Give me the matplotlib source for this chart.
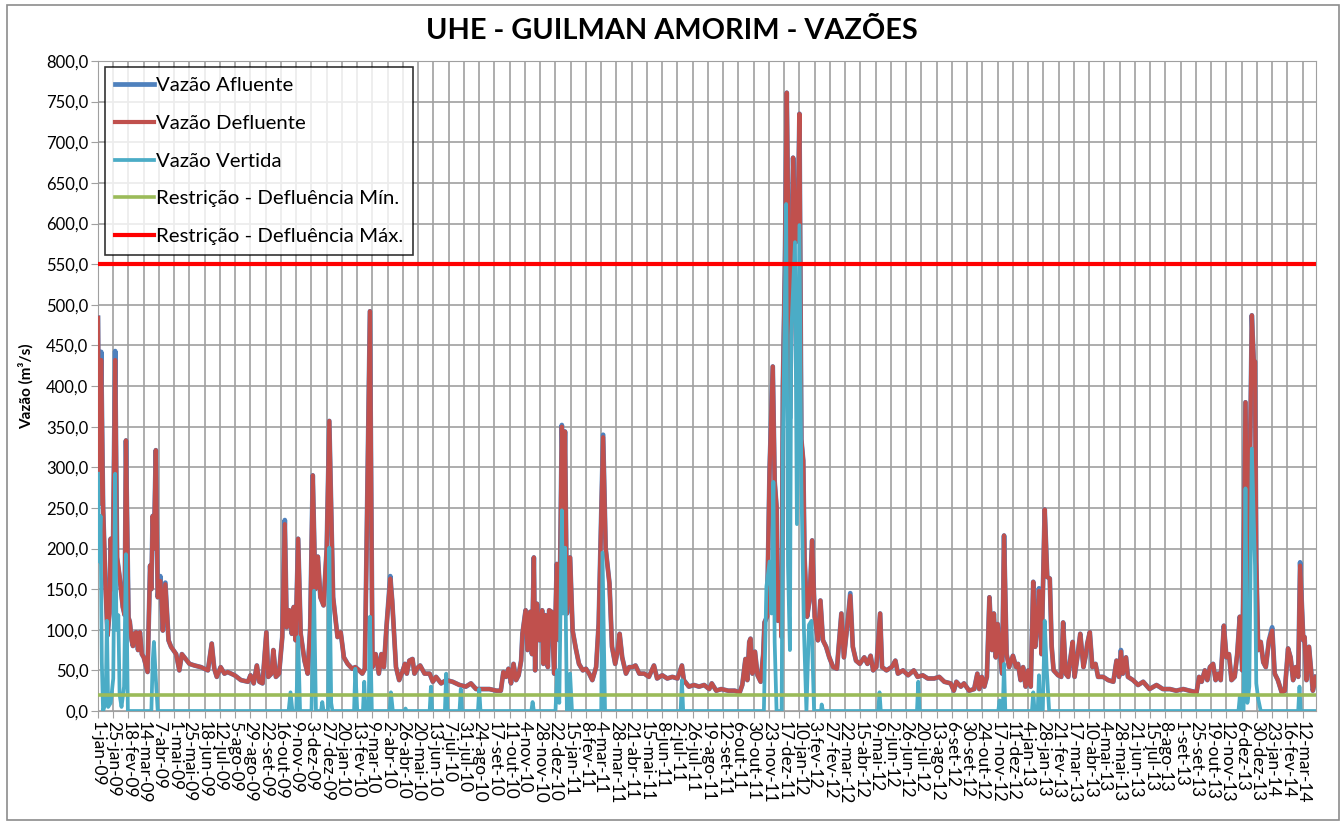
import matplotlib
matplotlib.use("Agg")
import matplotlib.pyplot as plt
from matplotlib.patches import Rectangle
import pandas as pd

# dias contados a partir de 1-jan-2009
dias_def = [0, 2, 5, 8, 12, 15, 18, 20, 23, 27, 30, 34, 39, 42, 44, 48, 50, 53, 55, 57, 60, 63, 66, 69, 72, 78,
            82, 84, 86, 88, 91, 94, 98, 100, 102, 106, 111, 115, 123, 128, 132, 136, 144, 152, 162, 173, 179, 183,
            187, 193, 199, 204, 215, 225, 236, 240, 245, 250, 254, 259, 265, 268, 273, 276, 280, 285, 290, 294,
            297, 301, 305, 308, 311, 315, 319, 325, 330, 334, 338, 342, 346, 350, 355, 360, 364, 367, 370, 377,
            382, 387, 393, 400, 405, 411, 416, 420, 428, 432, 437, 442, 446, 450, 454, 460, 463, 469, 474, 479,
            483, 486, 490, 495, 498, 504, 507, 514, 522, 527, 532, 540, 548, 558, 569, 579, 587, 595, 606, 616,
            627, 634, 638, 642, 646, 650, 654, 658, 662, 666, 668, 673, 676, 680, 683, 686, 688, 691, 695, 699,
            701, 704, 708, 710, 714, 718, 722, 726, 730, 733, 735, 738, 743, 747, 752, 757, 763, 768, 773, 778,
            784, 788, 795, 799, 805, 809, 814, 818, 821, 825, 831, 836, 841, 846, 852, 860, 867, 875, 880, 888,
            896, 904, 912, 919, 922, 930, 938, 946, 954, 962,
            966, 973, 981, 992, 1002, 1010, 1014, 1019, 1022, 1025, 1027, 1030, 1034, 1038, 1043, 1047, 1049,
            1053, 1057, 1062, 1065, 1068, 1070, 1073, 1076, 1078, 1081, 1084, 1086, 1089, 1091, 1094, 1098, 1101,
            1104, 1107, 1110, 1112, 1116, 1120, 1124, 1128, 1133, 1137, 1141, 1146, 1151, 1157, 1163, 1170, 1174,
            1179, 1184, 1188, 1193, 1199, 1206, 1211, 1216, 1220, 1225, 1231, 1234, 1241, 1249, 1255, 1259, 1267,
            1275, 1284, 1290, 1298, 1306, 1316, 1324, 1332, 1342, 1347, 1351, 1358, 1363, 1371, 1379, 1384, 1387,
            1391, 1395, 1399, 1403, 1407, 1410, 1413, 1416, 1420, 1423, 1426, 1430, 1434,
            1440, 1445, 1448, 1452, 1456, 1460, 1464, 1468, 1472, 1475, 1479, 1481, 1485, 1490, 1494, 1498, 1501,
            1504, 1511, 1516, 1519, 1523, 1527, 1530, 1534, 1537, 1542, 1546, 1551, 1555, 1557, 1561, 1565, 1570,
            1574, 1582, 1590, 1598, 1603, 1607, 1610, 1613, 1618, 1621, 1629, 1637, 1645, 1655, 1666, 1676, 1687,
            1697, 1708, 1718, 1729, 1733, 1737, 1742, 1746, 1750, 1755, 1759, 1763, 1767, 1772, 1776, 1780, 1784,
            1789, 1793, 1797, 1801, 1806, 1810, 1813, 1816, 1819, 1821, 1823, 1826, 1830, 1834, 1838, 1843, 1848,
            1852, 1857, 1863, 1868, 1873, 1877, 1881, 1885, 1889, 1892, 1897, 1899, 1902, 1906, 1910, 1912, 1917]

defluente = [484, 255, 432, 250, 150, 93, 120, 212, 150, 432, 189, 165, 128, 118, 333, 115, 110, 87, 80, 95, 97, 75,
             97, 70, 66, 48, 179, 150, 240, 200, 321, 140, 160, 136, 99, 156, 87, 79, 70, 50, 70, 66, 58, 56, 54,
             50, 83, 52, 42, 54, 46, 48, 44, 38, 36, 44, 34, 56, 36, 34, 97, 42, 46, 75, 42, 46, 91, 230, 103, 124,
             95, 128, 87, 212, 95, 62, 46, 103, 290, 150, 190, 140, 130, 200, 357, 250, 140, 91, 97, 66, 58, 52, 54,
             50, 46, 52, 492, 54, 70, 46, 70, 54, 103, 163, 136, 54, 38, 48,
             58, 46, 62, 64, 46, 54, 56, 46, 46, 36, 42, 34, 38, 36, 32, 30, 34, 27, 27, 27, 25, 25, 48, 42, 52, 34,
             58, 38, 44, 62, 95, 124, 75, 122, 70, 189, 50, 132, 87, 124, 58, 118, 54, 124, 122, 46, 181, 87, 350,
             250, 344, 120, 189, 99, 77, 58, 50, 52, 46, 38, 54, 107, 337, 200, 157, 79, 58, 75, 95, 66, 46, 54, 54,
             56, 46, 46, 42, 56, 40, 44, 40, 42, 40, 56, 38, 30, 32, 30, 32, 27,
             34, 25, 27, 25, 25, 23, 32, 64, 38, 85, 89, 46, 73, 44, 36, 70, 109, 116, 298, 424, 282, 251, 111, 158,
             91, 401, 541, 761, 629, 360, 465, 681, 577, 580, 735, 334, 308, 189, 116, 137, 210, 116, 87, 136, 87,
             79, 66, 54, 52, 120, 66, 103, 142, 79, 62, 58, 66, 58, 68, 50, 54, 120, 54, 50, 54, 62, 46, 50, 44, 50,
             42, 44, 40, 40, 42, 36, 34, 25, 36, 30, 34, 25, 27, 46, 27, 42, 30, 42, 140, 75, 120, 66, 107, 70, 46,
             216, 70, 54,
             68, 54, 58, 38, 54, 30, 50, 30, 159, 79, 114, 148, 70, 248, 165, 163, 79, 50, 44, 42, 109, 46, 42, 62,
             85, 42, 70, 95, 54, 70, 83, 97, 54, 58, 42, 42, 38, 36, 62, 42, 73, 46, 66, 42, 38, 32, 36, 27, 32, 27,
             27, 25, 27, 25, 23, 42, 36, 50, 38, 54, 58, 38, 46, 38, 105, 66, 70, 38, 42, 70, 116, 50, 380, 100,
             300, 487, 430, 430, 184, 75, 85, 60, 54, 87, 99, 46, 38, 23, 25, 77, 66, 38, 54, 42, 179, 87, 91, 38,
             79, 42, 25, 42]

# afluente = defluente, exceto nos picos onde aparece um pouco acima
picos_afluente = {5: 442, 27: 443, 98: 166, 106: 158, 294: 235, 460: 166, 730: 352, 795: 340,
                  1184: 145, 1481: 151, 1610: 75, 1848: 103, 1892: 183}
afluente = [picos_afluente.get(d, v) for d, v in zip(dias_def, defluente)]

dias_vert = [0, 2, 4, 6, 8, 12, 14, 16, 20, 24, 27, 29, 32, 34, 37, 41, 44, 47, 84, 86, 88, 91, 94, 300, 303, 306,
             312, 315, 318, 336, 340, 343, 351, 353, 355, 362, 364, 367, 369, 403, 405, 408, 417, 419, 421, 426,
             428, 431, 459, 461, 464, 482, 484, 486, 522, 524, 526, 546, 548, 550, 569, 571, 573, 598, 600, 602,
             682, 684, 686, 720, 723, 726, 730, 732, 735, 738, 741, 743, 746, 792, 794, 798, 917, 919, 921, 1048,
             1052, 1057, 1060, 1063, 1065, 1068, 1076, 1078, 1081, 1083, 1086, 1089, 1091, 1097, 1100, 1104, 1107,
             1111, 1115, 1119, 1123, 1127, 1138, 1139, 1141, 1228, 1230, 1232, 1289, 1291, 1293, 1417, 1419, 1421,
             1424, 1426, 1428, 1470, 1472, 1474, 1479, 1481, 1483, 1487, 1490, 1493, 1497, 1795, 1797, 1799, 1803,
             1806, 1809, 1812, 1816, 1821, 1823, 1826, 1830, 1889, 1891, 1893, 1917]
vertida = [292, 184, 240, 60, 0, 10, 111, 5, 10, 40, 292, 100, 118, 20, 5, 30, 193, 0, 0, 60, 85, 40, 0, 0, 23, 0,
           0, 91, 0, 0, 148, 0, 0, 11, 0, 0, 201, 10, 0, 0, 52, 0, 0, 36, 0, 0,
           116, 0, 0, 23, 0, 0, 3, 0, 0, 30, 0, 0, 46, 0, 0, 27, 0, 0, 27, 0,
           0, 11, 0, 0, 50, 10, 247, 120, 201, 0, 0, 46, 0, 0, 195, 0, 0, 38, 0, 0,
           153, 184, 120, 282, 85, 0, 0, 334, 500, 624, 179, 75, 463, 577, 230, 598, 282,
           101, 0, 106, 111, 0, 0, 8, 0, 0, 23, 0, 0, 36, 0, 0, 13, 0,
           0, 58, 0, 0, 23, 0, 0, 44, 0, 0, 111, 54, 0, 0, 17, 0, 0,
           274, 10, 30, 323, 179, 34, 15, 0, 0, 30, 0, 0]

restricao_min = 20.0
restricao_max = 550.0
meses = ["jan", "fev", "mar", "abr", "mai", "jun", "jul", "ago", "set", "out", "nov", "dez"]

inicio = pd.Timestamp("2009-01-01")
tick_dias = list(range(0, 1900, 24))
tick_labels = []
for d in tick_dias:
    t = inicio + pd.Timedelta(days=d)
    tick_labels.append(f"{t.day}-{meses[t.month - 1]}-{t.year % 100:02d}")

plt.rcParams['font.family'] = ['Lato', 'DejaVu Sans']

fig = plt.figure(figsize=(13.43, 8.25), dpi=100)
ax = fig.add_axes([98 / 1343, 114 / 825, 1218 / 1343, 650 / 825])

ax.plot(dias_def, afluente, color="#4F81BD", lw=3.4, label="Vazão Afluente", zorder=3)
ax.plot(dias_def, defluente, color="#C0504D", lw=3.0, label="Vazão Defluente", zorder=4)
ax.plot(dias_vert, vertida, color="#4BACC6", lw=2.7, label="Vazão Vertida", zorder=5)
ax.axhline(restricao_min, color="#9BBB59", lw=2.6, label="Restrição - Defluência Mín.", zorder=6)
ax.axhline(restricao_max, color="#FF0000", lw=3.0, label="Restrição - Defluência Máx.", zorder=6)

ax.set_xlim(0, 1917)
ax.set_ylim(0, 800)
ax.set_yticks(range(0, 801, 50))
ax.set_yticklabels([f"{v:.1f}".replace(".", ",") for v in range(0, 801, 50)], fontsize=12)
ax.set_xticks(tick_dias)
ax.set_xticklabels(tick_labels, rotation=-90, fontsize=12.5)
ax.tick_params(axis="both", color="#A0A0A0", length=5, pad=2)
ax.grid(True, color="#A0A0A0", lw=1.2)
ax.set_axisbelow(True)
for s in ax.spines.values():
    s.set_color("#A0A0A0")

ax.set_ylabel("Vazão (m³/s)", fontsize=11, fontweight="bold", labelpad=9)
fig.text(0.5, 0.962, "UHE - GUILMAN AMORIM - VAZÕES", ha="center", va="center",
         fontsize=20.8, fontweight="bold")

leg = ax.legend(loc="upper left", bbox_to_anchor=(0.0055, 0.991), fontsize=14.7, frameon=True,
                fancybox=False, edgecolor="black", handlelength=1.9, handletextpad=0.1,
                labelspacing=1.0, borderpad=0.5, borderaxespad=0.0)
leg.get_frame().set_linewidth(1.2)
leg.set_zorder(10)

fig.patches.append(Rectangle((7 / 1343, 5 / 825), 1332 / 1343, 815 / 825, transform=fig.transFigure,
                             fill=False, edgecolor="#8C8C8C", lw=1.2))

fig.savefig("out.png", dpi=100)
